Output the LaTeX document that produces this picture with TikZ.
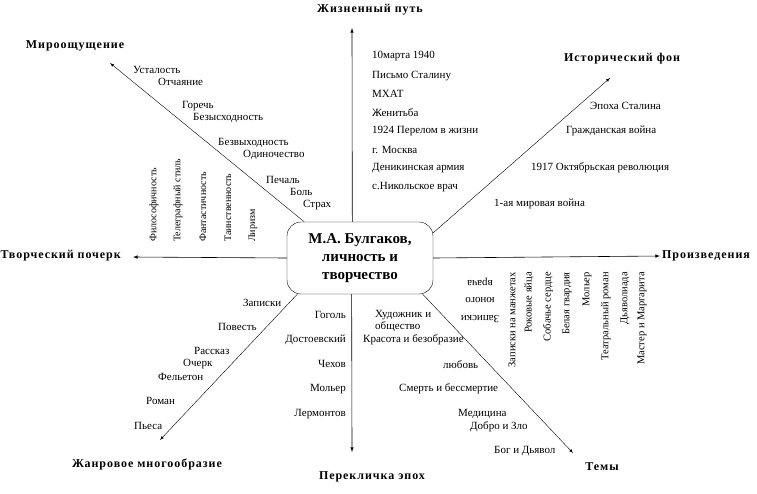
\documentclass[tikz,border=0pt]{standalone}
\usepackage{fontspec}
\setmainfont{Liberation Serif}
\newfontfamily\headfont[LetterSpace=8]{Liberation Serif}
\usetikzlibrary{arrows}

\begin{document}
\begin{tikzpicture}[x=1pt,y=-1pt,
  head/.style={font=\headfont\bfseries\fontsize{12}{14}\selectfont,inner sep=0pt},
  item/.style={font=\fontsize{11}{12.5}\selectfont,inner sep=0pt,anchor=west},
  ritem/.style={font=\fontsize{11}{12.5}\selectfont,inner sep=0pt,anchor=east},
  upitem/.style={font=\fontsize{10}{12}\selectfont,inner sep=0pt,anchor=west,rotate=90},
  downitem/.style={font=\fontsize{10.5}{12}\selectfont,inner sep=0pt,anchor=east,rotate=90},
  axis/.style={semithick,-latex},
  ray/.style={thin,-latex}]

\useasboundingbox (0,0) rectangle (757,493);

%central box
\node[draw,rounded corners=14pt,minimum width=146pt,minimum height=72pt,align=center,
  font=\bfseries\fontsize{15}{18}\selectfont] (bulg) at (360,258)
  {М.А. Булгаков,\\личность и\\творчество};

%ends of the arrows
\coordinate (life) at (352,28);
\coordinate (epoch) at (352,452);
\coordinate (pocherk) at (133,257);
\coordinate (proizv) at (660,256);
\coordinate (mir) at (110,63);
\coordinate (hist) at (610,78);
\coordinate (zhanr) at (160,440);
\coordinate (temy) at (573,453);

\draw[axis] (bulg.102.5) -- (life);
\draw[axis] (bulg.257.5) -- (epoch);
\draw[axis] (bulg.west) -- (pocherk);
\draw[axis] (bulg.east) -- (proizv);
\draw[ray] (bulg.147.7) -- (mir);
\draw[ray] (bulg.19.6) -- (hist);
\draw[ray] (bulg.210.8) -- (zhanr);
\draw[ray] (bulg.330.9) -- (temy);

%headings
\node[head] (hlife) at (370,10) {Жизненный путь};
\node[head] (hepoch) at (372,477) {Перекличка эпох};
\node[head,anchor=east] (hpocherk) at (121,256) {Творческий почерк};
\node[head,anchor=west] (hproizv) at (662,256) {Произведения};
\node[head] (hmir) at (75,46) {Мироощущение};
\node[head] (hhist) at (622,59) {Исторический фон};
\node[head] (hzhanr) at (147,464) {Жанровое многообразие};
\node[head] (htemy) at (602,467) {Темы};

%Мироощущение
\node[item] (m1) at (133,70) {Усталость};
\node[item] (m2) at (158,82) {Отчаяние};
\node[item] (m3) at (182,106) {Горечь};
\node[item] (m4) at (193,118) {Безысходность};
\node[item] (m5) at (218,143) {Безвыходность};
\node[item] (m6) at (243,155) {Одиночество};
\node[item] (m7) at (266,180) {Печаль};
\node[item] (m8) at (290,192) {Боль};
\node[item] (m9) at (303,205) {Страх};

%Жизненный путь
\node[item] (l1) at (372,56) {10марта 1940};
\node[item] (l2) at (372,76) {Письмо Сталину};
\node[item] (l3) at (372,94) {МХАТ};
\node[item] (l4) at (372,113) {Женитьба};
\node[item] (l5) at (372,131) {1924 Перелом в жизни};
\node[item] (l6) at (372,150) {г. Москва};
\node[item] (l7) at (372,168) {Деникинская армия};
\node[item] (l8) at (372,187) {с.Никольское врач};

%Исторический фон
\node[item] (h1) at (590,106) {Эпоха Сталина};
\node[item] (h2) at (566,131) {Гражданская война};
\node[item] (h3) at (531,168) {1917 Октябрьская революция};
\node[item] (h4) at (494,204) {1-ая мировая война};

%Творческий почерк
\node[upitem] (p1) at (154,242) {Философичность};
\node[upitem] (p2) at (178,242) {Телеграфный стиль};
\node[upitem] (p3) at (203,242) {Фантастичность};
\node[upitem] (p4) at (228,242) {Таинственность};
\node[upitem] (p5) at (253,242) {Лиризм};

%Произведения
\node[font=\fontsize{11}{17.5}\selectfont,inner sep=0pt,align=center,rotate=180] (w0) at (480,300)
  {Записки\\юного\\врача};
\node[downitem] (w1) at (512,272) {Записки на манжетах};
\node[downitem] (w2) at (529,272) {Роковые яйца};
\node[downitem] (w3) at (548,272) {Собачье сердце};
\node[downitem] (w4) at (567,272) {Белая гвардия};
\node[downitem] (w5) at (587,272) {Мольер};
\node[downitem] (w6) at (606,272) {Театральный роман};
\node[downitem] (w7) at (625,272) {Дьяволиада};
\node[downitem] (w8) at (642,272) {Мастер и Маргарита};

%Жанровое многообразие
\node[item] (g1) at (243,303) {Записки};
\node[item] (g2) at (218,327) {Повесть};
\node[item] (g3) at (194,351) {Рассказ};
\node[item] (g4) at (183,364) {Очерк};
\node[item] (g5) at (158,377) {Фельетон};
\node[item] (g6) at (146,401) {Роман};
\node[item] (g7) at (134,426) {Пьеса};

%Перекличка эпох
\node[ritem] (e1) at (346,315) {Гоголь};
\node[ritem] (e2) at (346,340) {Достоевский};
\node[ritem] (e3) at (346,364) {Чехов};
\node[ritem] (e4) at (346,389) {Мольер};
\node[ritem] (e5) at (346,414) {Лермонтов};

%Темы
\node[item,align=left] (t1) at (375,321) {Художник и\\общество};
\node[item] (t2) at (363,340) {Красота и безобразие};
\node[item] (t3) at (443,365) {любовь};
\node[item] (t4) at (399,389) {Смерть и бессмертие};
\node[item] (t5) at (458,414) {Медицина};
\node[item] (t6) at (470,427) {Добро и Зло};
\node[item] (t7) at (494,451) {Бог и Дьявол};
\end{tikzpicture}
\end{document}
